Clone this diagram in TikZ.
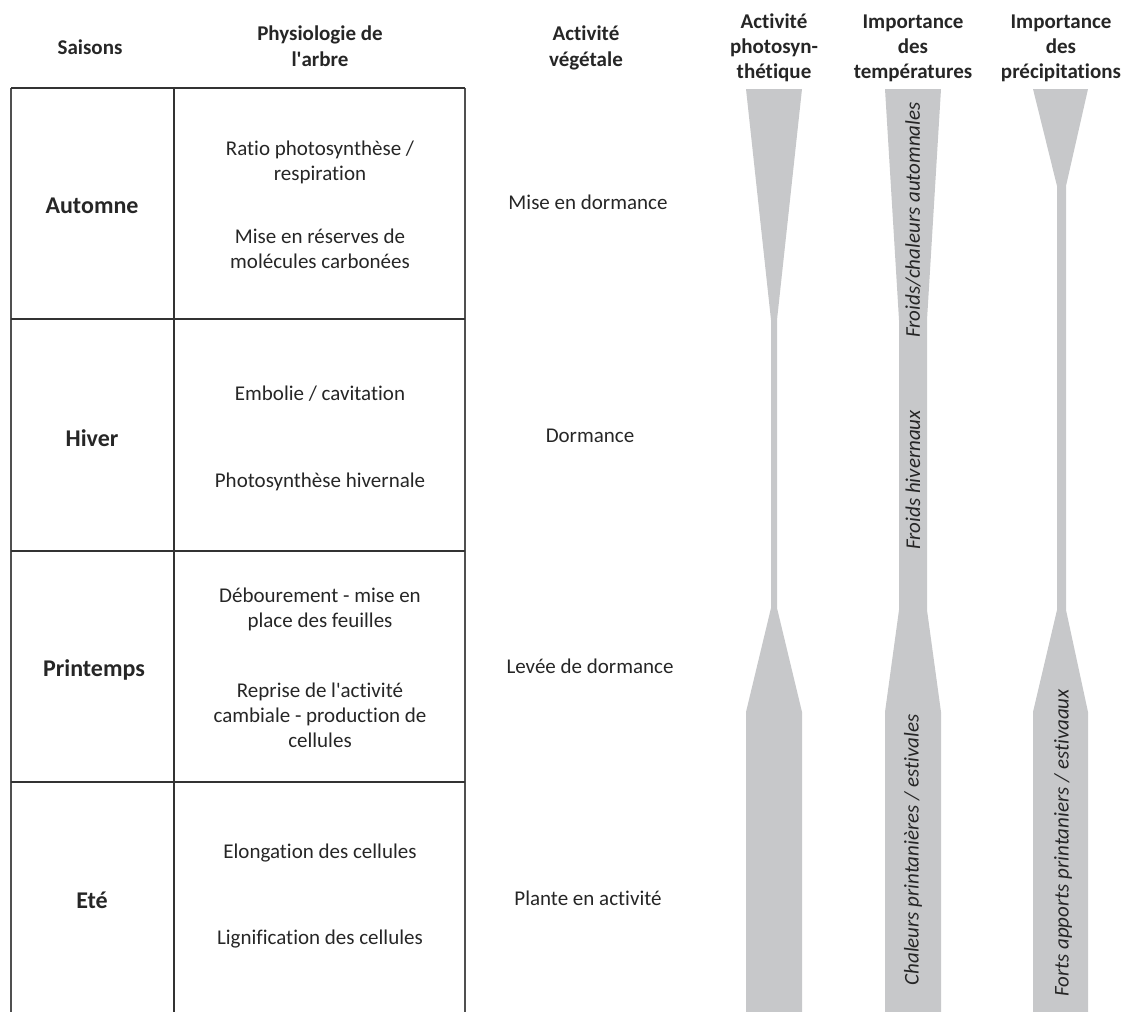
\documentclass[tikz,border=0pt]{standalone}
\usepackage{fontspec}
\setmainfont{Carlito}[Ligatures={NoCommon}]
\definecolor{bandgray}{RGB}{199,200,202}
\definecolor{txtc}{RGB}{38,38,38}
\definecolor{linec}{RGB}{51,51,51}
\definecolor{sidec}{RGB}{80,80,80}
\begin{document}
\begin{tikzpicture}[x=1pt,y=-1pt,
  txt/.style={font=\fontsize{21}{25}\selectfont, text=txtc, inner sep=0pt, anchor=base},
  hdr/.style={font=\fontsize{21}{25}\selectfont\bfseries, text=txtc, inner sep=0pt, anchor=base},
  season/.style={font=\fontsize{24}{28}\selectfont\bfseries, text=txtc, inner sep=0pt, anchor=base},
  rot/.style={font=\fontsize{21}{25}\selectfont\itshape, text=txtc, inner sep=0pt, rotate=90},
  band/.style={fill=bandgray, draw=none},
  hline/.style={line width=2.4pt, draw=linec},
  vdiv/.style={line width=2.6pt, draw=linec},
  vside/.style={line width=1.8pt, draw=sidec}]
\useasboundingbox (0,0) rectangle (1130,1012);

% ---- table lines
\coordinate (tl) at (11,88);
\coordinate (tm) at (174,88);
\coordinate (tr) at (465,88);
\coordinate (bl) at (11,1012);
\coordinate (bm) at (174,1012);
\coordinate (br) at (465,1012);
\draw[vside] (tl) -- (bl);
\draw[vdiv] (tm) -- (bm);
\draw[vside] (tr) -- (br);
\foreach \yy/\nm in {88/h0,319/h1,551/h2,782/h3}{
  \coordinate (\nm l) at (11,\yy);
  \coordinate (\nm r) at (465,\yy);
  \draw[hline] (\nm l) -- (\nm r);
}

% ---- gray bands
\fill[band] (746,89) -- (802,89) -- (777,320) -- (777,608) -- (802,712) -- (802,1012)
  -- (746,1012) -- (746,712) -- (771,608) -- (771,320) -- cycle;
\fill[band] (885,89) -- (941,89) -- (927,320) -- (927,610) -- (941,712) -- (941,1012)
  -- (885,1012) -- (885,712) -- (899,610) -- (899,320) -- cycle;
\fill[band] (1033,89) -- (1088,89) -- (1066,186) -- (1066,610) -- (1088,712) -- (1088,1012)
  -- (1033,1012) -- (1033,712) -- (1057,610) -- (1057,186) -- cycle;

% ---- headers
\node[hdr] (hsai) at (90,54) {Saisons};
\node[hdr] (hphy1) at (320,40) {Physiologie de};
\node[hdr] (hphy2) at (320,66) {l\textquotesingle arbre};
\node[hdr] (hveg1) at (586,40) {Activité};
\node[hdr] (hveg2) at (586,66) {végétale};
\node[hdr] (hps1) at (774,28) {Activité};
\node[hdr] (hps2) at (774,53) {photosyn-};
\node[hdr] (hps3) at (774,78) {thétique};
\node[hdr] (hte1) at (913,28) {Importance};
\node[hdr] (hte2) at (913,53) {des};
\node[hdr] (hte3) at (913,78) {températures};
\node[hdr] (hpr1) at (1061,28) {Importance};
\node[hdr] (hpr2) at (1061,53) {des};
\node[hdr] (hpr3) at (1061,78) {précipitations};

% ---- Automne
\node[season] (sa) at (92,213) {Automne};
\node[txt] (pa1) at (320,155) {Ratio photosynthèse /};
\node[txt] (pa2) at (320,180) {respiration};
\node[txt] (pa3) at (320,243) {Mise en réserves de};
\node[txt] (pa4) at (320,268) {molécules carbonées};
\node[txt] (va) at (588,209) {Mise en dormance};

% ---- Hiver
\node[season] (sh) at (92,446) {Hiver};
\node[txt] (ph1) at (320,400) {Embolie / cavitation};
\node[txt] (ph2) at (320,487) {Photosynthèse hivernale};
\node[txt] (vh) at (590,442) {Dormance};

% ---- Printemps
\node[season] (sp) at (94,676) {Printemps};
\node[txt] (pp1) at (320,602) {Débourement - mise en};
\node[txt] (pp2) at (320,627) {place des feuilles};
\node[txt] (pp3) at (320,697) {Reprise de l\textquotesingle activité};
\node[txt] (pp4) at (320,722) {cambiale - production de};
\node[txt] (pp5) at (320,747) {cellules};
\node[txt] (vp) at (590,673) {Levée de dormance};

% ---- Ete
\node[season] (se) at (92,908) {Eté};
\node[txt] (pe1) at (320,858) {Elongation des cellules};
\node[txt] (pe2) at (320,944) {Lignification des cellules};
\node[txt] (ve) at (588,905) {Plante en activité};

% ---- rotated labels
\node[rot] (ta) at (913,220) {Froids/chaleurs automnales};
\node[rot] (th) at (913,480) {Froids hivernaux};
\node[rot] (tp) at (913,850) {Chaleurs printanières / estivales};
\node[rot] (pr) at (1063,843) {Forts apports printaniers / estivaaux};
\end{tikzpicture}
\end{document}
